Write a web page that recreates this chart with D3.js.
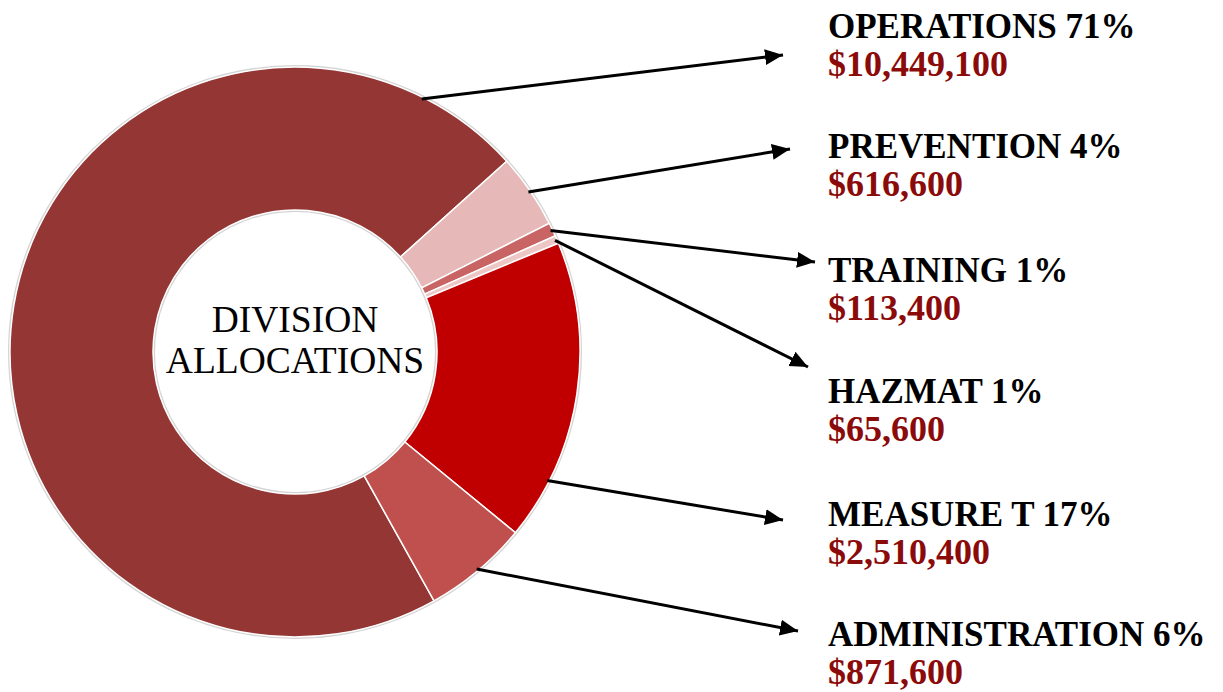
<!DOCTYPE html>
<html>
<head>
<meta charset="utf-8">
<script src="https://cdn.jsdelivr.net/npm/d3@7"></script>
<style>
  html, body { margin: 0; padding: 0; background: #fff; }
  svg { display: block; }
  .title { font-family: "Liberation Serif", "Times New Roman", serif; font-weight: bold; font-size: 35px; fill: #000; }
  .amount { font-family: "Liberation Serif", "Times New Roman", serif; font-weight: bold; font-size: 36px; fill: #8b0a0a; }
  .center-text { font-family: "Liberation Serif", "Times New Roman", serif; font-size: 37.5px; fill: #000; }
</style>
</head>
<body>
<div id="chart"></div>
<script>
// data
var divisions = ['OPERATIONS', 'PREVENTION', 'TRAINING', 'HAZMAT', 'MEASURE T', 'ADMINISTRATION'];
var amounts = [10449100, 616600, 113400, 65600, 2510400, 871600];
var percents = [71, 4, 1, 1, 17, 6];
var sliceColors = ['#943634', '#e6b9b8', '#c86464', '#edc7c6', '#c00000', '#c0504d'];

// label layout (title baseline y, arrow tip, angle on the ring where the arrow starts)
var labelX = 828;
var labelBaseline = [38, 158, 282, 403, 526, 646];
var arrowTips = [[783, 55], [790, 149], [815, 262], [808, 367], [783, 520], [798, 631]];
var anchorDeg = [26.6, null, null, null, 117, null];

var width = 1223, height = 692;
var cx = 295, cy = 352, outerR = 285, innerR = 142;
var startDeg = -209.2;

var svg = d3.select('#chart').append('svg')
    .attr('width', width)
    .attr('height', height);

svg.append('defs').append('marker')
    .attr('id', 'arrow')
    .attr('markerUnits', 'userSpaceOnUse')
    .attr('markerWidth', 20)
    .attr('markerHeight', 18)
    .attr('viewBox', '0 0 20 18')
    .attr('refX', 18)
    .attr('refY', 9)
    .attr('orient', 'auto')
    .append('path')
    .attr('d', 'M0,1 L18,9 L0,17 Z')
    .attr('fill', '#000');

var g = svg.append('g').attr('transform', 'translate(' + cx + ',' + cy + ')');

var pie = d3.pie()
    .sort(null)
    .value(function (d) { return d; })
    .startAngle(startDeg * Math.PI / 180)
    .endAngle(startDeg * Math.PI / 180 + 2 * Math.PI);
var arcs = pie(amounts);

var arc = d3.arc().innerRadius(innerR).outerRadius(outerR);

// soft edge around the ring
g.append('circle').attr('r', outerR + 1).attr('fill', 'none').attr('stroke', '#d4d4d4').attr('stroke-width', 2);
g.append('circle').attr('r', innerR - 1).attr('fill', 'none').attr('stroke', '#d4d4d4').attr('stroke-width', 2);

g.selectAll('path.slice')
    .data(arcs)
    .enter()
    .append('path')
    .attr('class', 'slice')
    .attr('d', arc)
    .attr('fill', function (d, i) { return sliceColors[i]; })
    .attr('stroke', '#fff')
    .attr('stroke-width', 1.5);

// center text
g.append('text').attr('class', 'center-text').attr('text-anchor', 'middle')
    .attr('x', 0).attr('y', -20).text('DIVISION');
g.append('text').attr('class', 'center-text').attr('text-anchor', 'middle')
    .attr('x', 0).attr('y', 21).text('ALLOCATIONS');

// leader arrows and labels
var fmt = d3.format('$,');
arcs.forEach(function (d, i) {
    var a = anchorDeg[i] != null ? anchorDeg[i] * Math.PI / 180 : (d.startAngle + d.endAngle) / 2;
    var r = outerR - 2;
    var sx = cx + r * Math.sin(a), sy = cy - r * Math.cos(a);
    svg.append('line')
        .attr('x1', sx).attr('y1', sy)
        .attr('x2', arrowTips[i][0]).attr('y2', arrowTips[i][1])
        .attr('stroke', '#000')
        .attr('stroke-width', 3)
        .attr('marker-end', 'url(#arrow)');

    svg.append('text').attr('class', 'title')
        .attr('x', labelX).attr('y', labelBaseline[i])
        .text(divisions[i] + ' ' + percents[i] + '%');
    svg.append('text').attr('class', 'amount')
        .attr('x', labelX).attr('y', labelBaseline[i] + 38)
        .text(fmt(amounts[i]));
});
</script>
</body>
</html>
